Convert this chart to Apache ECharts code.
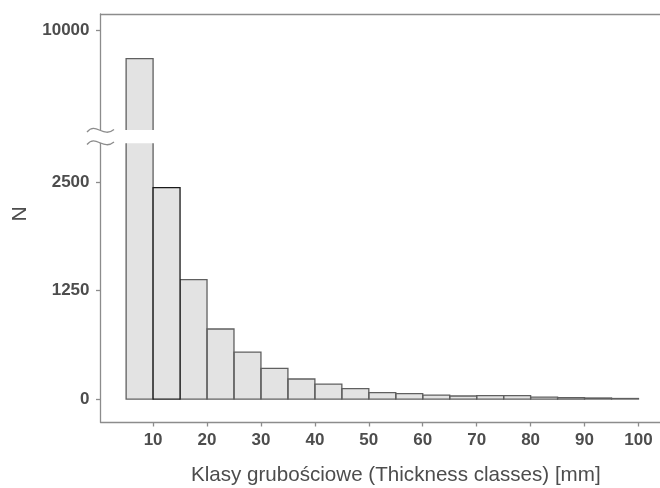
<!DOCTYPE html>
<html>
<head>
<meta charset="utf-8">
<script src="https://cdn.jsdelivr.net/npm/echarts@6/dist/echarts.min.js"></script>
<style>
  html, body { margin: 0; padding: 0; background: #fff; }
  #main { width: 660px; height: 488px; }
</style>
</head>
<body>
<div id="main"></div>
<script>
// klasy grubości - poczatek przedzialu [mm], szerokosc klasy 5 mm
var binStarts = [5, 10, 15, 20, 25, 30, 35, 40, 45, 50, 55, 60, 65, 70, 75, 80, 85, 90, 95];
var counts = [9670, 2438, 1377, 808, 542, 354, 231, 173, 119, 75, 62, 46, 35, 39, 39, 23, 17, 12, 6];
var binWidth = 5;
var highlightBin = 10;

var xTicks = [10, 20, 30, 40, 50, 60, 70, 80, 90, 100];
var yTicksLow = [0, 1250, 2500];
var yTicksHigh = [10000];

var mychart = echarts.init(document.getElementById('main'));

var data = binStarts.map(function (b, i) { return [b, counts[i]]; });

var axisColor = '#8c8c8c';
var labelColor = '#4d4d4d';
var labelFont = { fontFamily: 'Liberation Sans', fontWeight: 'bold', fontSize: 17, color: labelColor };

// rysuje slupek histogramu, przyciety do obszaru siatki (os z przerwa)
function renderBar(params, api) {
  var x0 = api.value(0), v = api.value(1);
  var cs = params.coordSys;
  var bl = api.coord([x0, 0]);
  var tr = api.coord([x0 + binWidth, v]);
  var xl = bl[0], xr = tr[0];
  var gTop = cs.y, gBot = cs.y + cs.height;
  if (tr[1] > gBot) return;
  var cutTop = tr[1] < gTop, cutBot = bl[1] > gBot;
  var t = Math.max(tr[1], gTop), b = Math.min(bl[1], gBot);
  var hl = x0 === highlightBin;
  var lineStyle = { fill: null, stroke: hl ? '#1a1a1a' : '#606060', lineWidth: 1.3 };
  var z = hl ? 10 : 1;
  var children = [{
    type: 'rect', z2: z,
    shape: { x: xl, y: t, width: xr - xl, height: b - t },
    style: { fill: '#e3e3e3' }
  }];
  if (!cutTop && !cutBot) {
    children.push({ type: 'polygon', z2: z + 1, shape: { points: [[xl, b], [xl, t], [xr, t], [xr, b]] }, style: lineStyle });
  } else if (cutTop && !cutBot) {
    children.push({ type: 'polyline', z2: z + 1, shape: { points: [[xl, t], [xl, b], [xr, b], [xr, t]] }, style: lineStyle });
  } else if (cutBot && !cutTop) {
    children.push({ type: 'polyline', z2: z + 1, shape: { points: [[xl, b], [xl, t], [xr, t], [xr, b]] }, style: lineStyle });
  }
  return { type: 'group', children: children };
}

function squiggle(y) {
  return {
    type: 'bezierCurve',
    shape: { x1: 87, y1: y + 1.5, cpx1: 96, cpy1: y - 9, cpx2: 103, cpy2: y + 8, x2: 114, y2: y - 1 },
    style: { stroke: '#8c8c8c', lineWidth: 1.3, fill: null }
  };
}

var xMin = 0.25, xMax = 104.75;

var option = {
  animation: false,
  grid: [
    { left: 100.5, top: 14, width: 563.6, height: 116, outerBoundsMode: 'none' },
    { left: 100.5, top: 143.3, width: 563.6, height: 278.7, outerBoundsMode: 'none' }
  ],
  xAxis: [
    {
      gridIndex: 0, type: 'value', position: 'top', min: xMin, max: xMax,
      axisLine: { show: true, onZero: false, lineStyle: { color: axisColor, width: 1.3 } },
      axisTick: { show: false }, axisLabel: { show: false }, splitLine: { show: false }
    },
    {
      gridIndex: 1, type: 'value', position: 'bottom', min: xMin, max: xMax,
      name: 'Klasy grubościowe (Thickness classes) [mm]',
      nameLocation: 'middle', nameGap: 43,
      nameTextStyle: { fontFamily: 'Liberation Sans', fontSize: 20.6, color: labelColor, padding: [0, 0, 0, 27] },
      axisLine: { show: true, onZero: false, lineStyle: { color: axisColor, width: 1.3 } },
      axisTick: { show: true, length: 4.5, customValues: xTicks, lineStyle: { color: axisColor, width: 1.3 } },
      axisLabel: Object.assign({ customValues: xTicks, margin: 10, formatter: function (v) { return String(v); } }, labelFont),
      splitLine: { show: false }
    }
  ],
  yAxis: [
    {
      gridIndex: 0, type: 'value', min: 8846, max: 10185,
      axisLine: { show: true, onZero: false, lineStyle: { color: axisColor, width: 1.3 } },
      axisTick: { show: true, length: 4.5, customValues: yTicksHigh, lineStyle: { color: axisColor, width: 1.3 } },
      axisLabel: Object.assign({ customValues: yTicksHigh, margin: 11, formatter: function (v) { return String(v); } }, labelFont),
      splitLine: { show: false }
    },
    {
      gridIndex: 1, type: 'value', min: -265, max: 2950,
      axisLine: { show: true, onZero: false, lineStyle: { color: axisColor, width: 1.3 } },
      axisTick: { show: true, length: 4.5, customValues: yTicksLow, lineStyle: { color: axisColor, width: 1.3 } },
      axisLabel: Object.assign({ customValues: yTicksLow, margin: 11, formatter: function (v) { return String(v); } }, labelFont),
      splitLine: { show: false }
    }
  ],
  graphic: [
    squiggle(130.5),
    squiggle(143),
    {
      type: 'text', x: 20, y: 214, rotation: Math.PI / 2,
      style: { text: 'N', fontFamily: 'Liberation Sans', fontSize: 21, fill: labelColor, align: 'center', verticalAlign: 'middle' }
    }
  ],
  series: [
    { type: 'custom', xAxisIndex: 0, yAxisIndex: 0, renderItem: renderBar, encode: { x: 0, y: 1 }, data: data },
    { type: 'custom', xAxisIndex: 1, yAxisIndex: 1, renderItem: renderBar, encode: { x: 0, y: 1 }, data: data }
  ]
};

mychart.setOption(option);
</script>
</body>
</html>
